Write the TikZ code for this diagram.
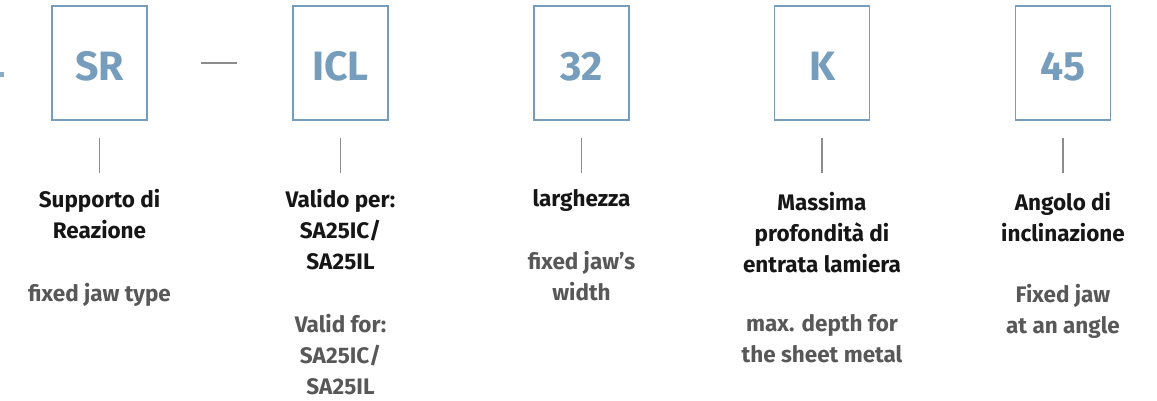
\documentclass[tikz,border=0pt]{standalone}
\usepackage{fontspec}
\setmainfont{Fira Sans}
\usetikzlibrary{positioning}
\definecolor{codeblue}{RGB}{118,158,188}
\definecolor{rulegray}{RGB}{140,140,140}
\definecolor{notegray}{RGB}{88,88,88}
\definecolor{headblack}{RGB}{22,22,22}

\tikzset{
  codebox/.style={draw=codeblue, line width=1.4pt, minimum width=95pt, minimum height=114pt,
    inner sep=0pt, text height=36pt, text depth=0pt, text=codeblue,
    font=\fontsize{41}{41}\selectfont\bfseries},
  head/.style={anchor=north, inner sep=0pt, align=center, text=headblack,
    font=\fontsize{22.5}{31}\selectfont\bfseries},
  note/.style={anchor=north, inner sep=0pt, align=center, text=notegray,
    font=\fontsize{22.5}{31}\selectfont\bfseries},
  tick/.style={draw=rulegray, line width=1.2pt, shorten <=17pt},
}

\begin{document}
\begin{tikzpicture}[x=1pt, y=-1pt]
    \useasboundingbox (0,0) rectangle (1157,401);

    % code boxes
    \node[codebox] (sr) at (99.5,63) {SR};
    \node[codebox] (icl) at (340.5,63) {ICL};
    \node[codebox] (wd) at (581.5,63) {32};
    \node[codebox] (dp) at (822,63) {K};
    \node[codebox] (ang) at (1063,63) {45};

    % cut-off mark at the left edge
    \fill[codeblue!85] (0,72) rectangle (4,77);
    \draw[rulegray, line width=1.2pt, shorten <=53pt, shorten >=55pt] (sr.east) -- (icl.west);

    % italian headings
    \node[head] (srhd) at (99.5,189) {Supporto di\\Reazione};
    \node[head] (iclhd) at (340.5,189) {Valido per:\\SA25IC/\\SA25IL};
    \node[head] (wdhd) at (581.5,189) {larghezza};
    \node[head] (dphd) at (822,192) {Massima\\profondità di\\entrata lamiera};
    \node[head] (anghd) at (1063,192) {Angolo di\\inclinazione};

    % english notes
    \node[note] (srnt) at (99.5,283) {fixed jaw type};
    \node[note] (iclnt) at (340.5,314) {Valid for:\\SA25IC/\\SA25IL};
    \node[note] (wdnt) at (581.5,251) {fixed jaw’s\\width};
    \node[note] (dpnt) at (822,314) {max. depth for\\the sheet metal};
    \node[note] (angnt) at (1063,284) {Fixed jaw\\at an angle};

    \draw[tick, shorten >=16pt] (sr.south) -- (srhd.north);
    \draw[tick, shorten >=16pt] (icl.south) -- (iclhd.north);
    \draw[tick, shorten >=16pt] (wd.south) -- (wdhd.north);
    \draw[tick, shorten >=19pt] (dp.south) -- (dphd.north);
    \draw[tick, shorten >=19pt] (ang.south) -- (anghd.north);
\end{tikzpicture}
\end{document}
